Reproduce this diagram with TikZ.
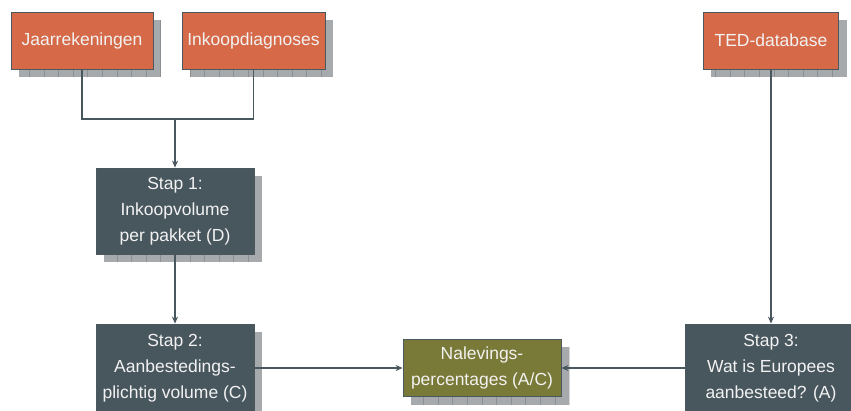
\documentclass[tikz,border=0pt]{standalone}
\usepackage{fontspec}
\setmainfont{Liberation Sans}
\usepackage{tikz}
\usetikzlibrary{arrows.meta, backgrounds, calc}

\definecolor{oranje}{RGB}{214,106,72}
\definecolor{leisteen}{RGB}{72,86,94}
\definecolor{olijf}{RGB}{122,122,56}
\definecolor{rand}{RGB}{75,88,96}
\definecolor{schaduwgrijs}{RGB}{166,170,173}
\definecolor{rastergrijs}{RGB}{138,144,148}
\definecolor{tekstwit}{RGB}{242,242,242}

\tikzset{
  blok/.style={draw=rand, line width=0.8pt, inner sep=0pt, align=center,
    text=tekstwit, font=\fontsize{17.5}{26}\selectfont},
  bron/.style={blok, fill=oranje, minimum height=57},
  stap/.style={blok, fill=leisteen},
  uitkomst/.style={blok, fill=olijf, minimum height=57},
  lijn/.style={draw=leisteen, line width=1.5pt},
  pijl/.style={lijn, -{Stealth[length=7pt,width=6pt]}}
}

% schaduw met raster achter een blok
\newcommand{\schaduw}[1]{%
  \begin{scope}
    \clip ($(#1.north west)+(8,8)$) rectangle ($(#1.south east)+(8,8)$);
    \fill[schaduwgrijs] ($(#1.north west)+(8,8)$) rectangle ($(#1.south east)+(8,8)$);
    \draw[rastergrijs, line width=0.6pt, step=14.6] ($(#1.north west)+(8,8)$) grid ($(#1.south east)+(8,8)$);
  \end{scope}}

\begin{document}
\begin{tikzpicture}[x=1pt, y=-1pt]
\useasboundingbox (0,0) rectangle (851,410);
\clip (0,0) rectangle (851,410);

% bronnen
\node[bron, minimum width=142] (jaar) at (82,40.5) {Jaarrekeningen};
\node[bron, minimum width=143] (inkoop) at (253.5,40.5) {Inkoopdiagnoses};
\node[bron, minimum width=135] (ted) at (771,40.5) {TED-database};

% stappen
\node[stap, minimum width=158, minimum height=86] (stap1) at (175,211) {Stap 1:\\Inkoopvolume\\per pakket (D)};
\node[stap, minimum width=158, minimum height=88] (stap2) at (175,368) {Stap 2:\\Aanbestedings-\\plichtig volume (C)};
\node[stap, minimum width=172, minimum height=88] (stap3) at (771,368) {Stap 3:\\Wat is Europees\\aanbesteed? (A)};
\node[uitkomst, minimum width=158] (naleving) at (482,368) {Nalevings-\\percentages (A/C)};

\begin{scope}[on background layer]
  \foreach \n in {jaar, inkoop, ted, stap1, stap2, stap3, naleving}
    {\schaduw{\n}}
\end{scope}

% verbindingen
\coordinate (samen) at (175,119);
\draw[lijn] (jaar.south) |- (samen) -| (inkoop.south);
\draw[pijl] (samen) -- (stap1.north);
\draw[pijl] (stap1) -- (stap2);
\draw[pijl] (stap2) -- (naleving);
\draw[pijl] (stap3) -- (naleving);
\draw[pijl] (ted) -- (stap3);
\end{tikzpicture}
\end{document}
